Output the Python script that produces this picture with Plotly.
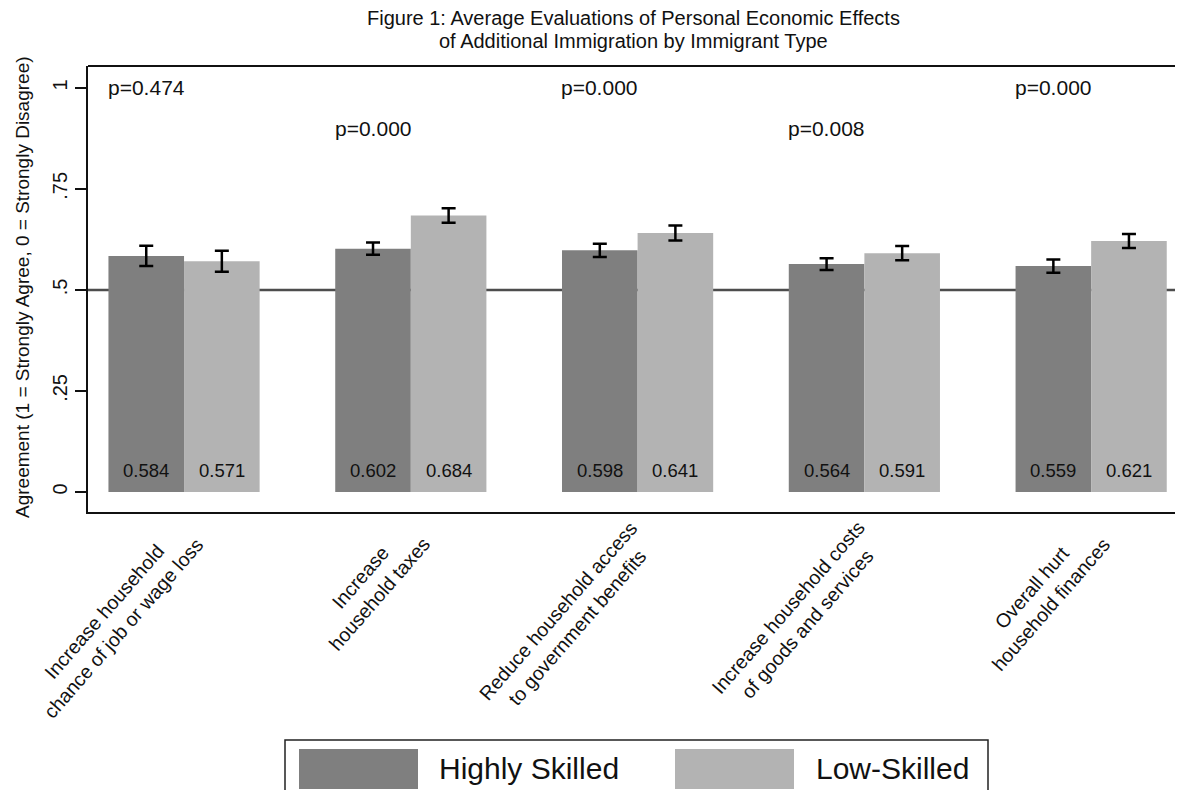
import plotly.graph_objects as go

# ---- data ----
categories = [
    "Increase household<br>chance of job or wage loss",
    "Increase<br>household taxes",
    "Reduce household access<br>to government benefits",
    "Increase household costs<br>of goods and services",
    "Overall hurt<br>household finances",
]
series_names = ["Highly Skilled", "Low-Skilled"]
high_skilled = [0.584, 0.602, 0.598, 0.564, 0.559]
low_skilled = [0.571, 0.684, 0.641, 0.591, 0.621]
high_err = [0.025, 0.015, 0.0165, 0.0145, 0.0165]
low_err = [0.026, 0.018, 0.0185, 0.0175, 0.0175]
p_labels = ["p=0.474", "p=0.000", "p=0.000", "p=0.008", "p=0.000"]
p_heights = [1.0, 0.9, 1.0, 0.9, 1.0]
y_tickvals = [0, 0.25, 0.5, 0.75, 1]
y_ticktext = ["0", ".25", ".5", ".75", "1"]
title_lines = [
    "Figure 1: Average Evaluations of Personal Economic Effects",
    "of Additional Immigration by Immigrant Type",
]

# ---- style ----
FONT = "Liberation Sans, Arial, Helvetica, sans-serif"
DARK = "#7f7f7f"
LIGHT = "#b3b3b3"
OFF = 8                      # page body margin of the html page
W, H = 1183 - OFF, 790 - OFF
ML, MR, MT, MB = 80, 0, 58, 278
BARGAP = 1 / 3
bar_w = (1 - BARGAP) / 2

plot_w = W - ML - MR
plot_h = H - MT - MB


def px_x(v):
    """page x pixel -> paper coordinate"""
    return (v - OFF - ML) / plot_w


def px_y(v):
    """page y pixel -> paper coordinate"""
    return (H - MB - (v - OFF)) / plot_h


x_idx = list(range(len(categories)))

fig = go.Figure()
fig.add_trace(go.Bar(
    x=x_idx, y=high_skilled, name=series_names[0],
    marker=dict(color=DARK, line=dict(width=0)),
    error_y=dict(type="data", array=high_err, color="black", thickness=2.5, width=7),
    showlegend=False,
))
fig.add_trace(go.Bar(
    x=x_idx, y=low_skilled, name=series_names[1],
    marker=dict(color=LIGHT, line=dict(width=0)),
    error_y=dict(type="data", array=low_err, color="black", thickness=2.5, width=7),
    showlegend=False,
))

annotations = []
# value labels inside bars
for k in x_idx:
    for vals, off in ((high_skilled, -bar_w / 2), (low_skilled, bar_w / 2)):
        annotations.append(dict(
            x=k + off, y=0.054, xref="x", yref="y", text=f"{vals[k]:.3f}",
            showarrow=False, font=dict(size=18.5, color="#111", family=FONT),
            xanchor="center", yanchor="middle",
        ))
# p-values
for k in x_idx:
    annotations.append(dict(
        x=k - bar_w / 2, y=p_heights[k], xref="x", yref="y", text=p_labels[k],
        showarrow=False, font=dict(size=21, color="#111", family=FONT),
        xanchor="center", yanchor="middle",
    ))
# category labels (rotated, centered lines)
for k in x_idx:
    annotations.append(dict(
        x=k, y=0, xref="x", yref="paper", text=categories[k],
        showarrow=False, textangle=-49, align="center",
        font=dict(size=19.5, color="#111", family=FONT),
        xanchor="right", yanchor="top", xshift=26, yshift=-2,
    ))
# y-axis title
annotations.append(dict(
    x=px_x(22), y=px_y(287), xref="paper", yref="paper",
    text="Agreement (1 = Strongly Agree, 0 = Strongly Disagree)",
    showarrow=False, textangle=-90, font=dict(size=19, color="#111", family=FONT),
    xanchor="center", yanchor="middle",
))
# title lines
for line, ypage in zip(title_lines, (18, 41)):
    annotations.append(dict(
        x=px_x(633), y=px_y(ypage), xref="paper", yref="paper", text=line,
        showarrow=False, font=dict(size=20, color="#111", family=FONT),
        xanchor="center", yanchor="middle", borderpad=0,
    ))
# legend texts
annotations.append(dict(
    x=px_x(437), y=px_y(768), xref="paper", yref="paper", text=series_names[0],
    showarrow=False, font=dict(size=30, color="#111", family=FONT),
    xanchor="left", yanchor="middle",
))
annotations.append(dict(
    x=px_x(814), y=px_y(768), xref="paper", yref="paper", text=series_names[1],
    showarrow=False, font=dict(size=30, color="#111", family=FONT),
    xanchor="left", yanchor="middle",
))

shapes = [
    # reference line at .5 (behind bars)
    dict(type="line", xref="paper", yref="y", x0=0, x1=1, y0=0.5, y1=0.5,
         line=dict(color="#4d4d4d", width=2.5), layer="below"),
    # top border of plot region
    dict(type="line", xref="paper", yref="paper", x0=0, x1=1.01, y0=1, y1=1,
         line=dict(color="#111", width=2)),
    # legend box
    dict(type="rect", xref="paper", yref="paper",
         x0=px_x(285), x1=px_x(988), y0=px_y(805), y1=px_y(740),
         line=dict(color="#222", width=1.5), fillcolor="white"),
    dict(type="rect", xref="paper", yref="paper",
         x0=px_x(299), x1=px_x(418), y0=px_y(789), y1=px_y(749),
         line=dict(width=0), fillcolor=DARK),
    dict(type="rect", xref="paper", yref="paper",
         x0=px_x(675), x1=px_x(794), y0=px_y(789), y1=px_y(749),
         line=dict(width=0), fillcolor=LIGHT),
]

fig.update_layout(
    width=W, height=H,
    margin=dict(l=ML, r=MR, t=MT, b=MB, pad=0),
    paper_bgcolor="white", plot_bgcolor="white",
    barmode="group", bargap=BARGAP, bargroupgap=0,
    font=dict(family=FONT, color="#111"),
    xaxis=dict(
        range=[-0.4235, 4.405], showticklabels=False, ticks="",
        showline=True, linecolor="#111", linewidth=2, mirror=False,
        showgrid=False, zeroline=False, fixedrange=True,
    ),
    yaxis=dict(
        range=[-0.0495, 1.054], tickvals=y_tickvals, ticktext=y_ticktext,
        tickangle=-90, ticks="outside", ticklen=11, tickwidth=1.8, tickcolor="#111",
        tickfont=dict(size=20, color="#111", family=FONT),
        showline=True, linecolor="#111", linewidth=2, mirror=False,
        showgrid=False, zeroline=False, fixedrange=True,
    ),
    annotations=annotations,
    shapes=shapes,
)

fig.write_html("out.html")
